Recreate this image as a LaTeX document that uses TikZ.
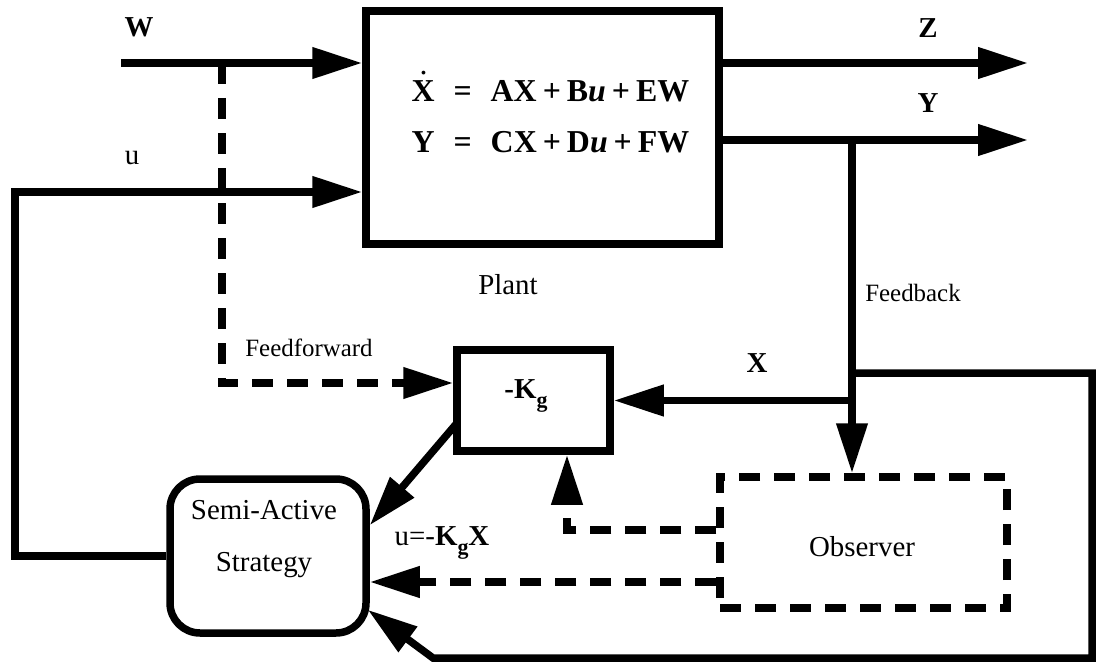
\documentclass[tikz,border=0pt]{standalone}
\usepackage{fontspec}
\setmainfont{Liberation Serif}
\usetikzlibrary{arrows.meta,calc}
\newcommand{\subg}{\raisebox{-0.3em}{\fontsize{22}{22}\selectfont\textbf{g}}}
\begin{document}
\begin{tikzpicture}[x=1bp,y=-1bp,
  line width=7.5bp,
  box/.style={draw, line width=7.5bp, inner sep=0pt, rectangle},
  arr/.style={-{Triangle[length=50bp,width=30bp]}},
  dline/.style={dash pattern=on 21bp off 14bp},
  darr/.style={arr, dline},
  big/.style={font=\fontsize{29}{34}\selectfont, inner sep=0pt},
  eqf/.style={font=\fontsize{32}{36}\selectfont\bfseries, inner sep=0pt},
  small/.style={font=\fontsize{25}{30}\selectfont, inner sep=0pt},
]
\useasboundingbox (0,0) rectangle (1098,664);

% blocks
\node[box, minimum width=353bp, minimum height=233bp] (plant) at (542.5,127.5) {};
\node[box, minimum width=153bp, minimum height=101bp] (kg) at (533.5,400.5) {};
\node[box, dline, minimum width=287bp, minimum height=131bp] (obs) at (863.5,542.5) {};
\node[box, rounded corners=30bp, minimum width=196bp, minimum height=154bp] (semi) at (268,556) {};

% texts
\node[eqf, anchor=base east] (eq1) at (693,102) {\makebox[0pt][l]{\hspace{0.25em}\raisebox{0.85em}{\mdseries .}}X\hspace{19bp}=\hspace{19bp}AX\hspace{6bp}+\hspace{6bp}B\textit{u}\hspace{6bp}+\hspace{6bp}EW};
\node[eqf, anchor=base east] (eq2) at (693,153) {Y\hspace{19bp}=\hspace{19bp}CX\hspace{6bp}+\hspace{6bp}D\textit{u}\hspace{6bp}+\hspace{6bp}FW};
\node[big] (lplant) at (508,285) {Plant};
\node[big] (lW) at (139,27) {\textbf{W}};
\node[big] (lu) at (132,158) {u};
\node[big] (lZ) at (928,28) {\textbf{Z}};
\node[big] (lY) at (928,103) {\textbf{Y}};
\node[small] (lfb) at (913,293) {Feedback};
\node[small] (lff) at (309,348) {Feedforward};
\node[big] (lX) at (757,363) {\textbf{X}};
\node[big] (lkg) at (526,396) {\textbf{-K}\subg};
\node[big] (lux) at (442,543) {u=-\textbf{K}\subg\textbf{X}};
\node[big, align=center, font=\fontsize{29}{52}\selectfont] (lsemi) at (264,539) {Semi-Active\\Strategy};
\node[big] (lobs) at (862,547) {Observer};

% connectors
\coordinate (wstart) at (121,63);
\draw[arr] (wstart) -- (wstart -| plant.west);
\coordinate (uleft) at (15,192);
\draw[arr] (semi.west) -| (uleft) -- (uleft -| plant.west);
\coordinate (zend) at (1028,63);
\draw[arr] (zend -| plant.east) -- (zend);
\coordinate (yend) at (1028,140);
\draw[arr] (yend -| plant.east) -- (yend);
\coordinate (fb) at (852,140);
\draw[arr] (fb) -- (fb |- obs.north);
\draw[arr] (fb |- kg.east) -- (kg.east);
\coordinate (loopstart) at (852,373);
\coordinate (lr) at (1092,658);
\coordinate (lb) at (433,658);
\coordinate (semitip) at ($(semi.south east)+(-2,-27)$);
\draw[arr] (loopstart) -| (lr) -- (lb) -- (semitip);
\coordinate (kgout) at ($(kg.south west)+(3.75,-31.75)$);
\coordinate (semiin) at ($(semi.north east)+(0,50)$);
\draw[arr] (kgout) -- (semiin);
\coordinate (ff) at (222,63);
\draw[darr] (ff) |- ($(kg.west)+(0,-17.5)$);
\draw[darr] ($(obs.west)+(0,-12.5)$) -| ($(kg.south)+(33.5,0)$);
\coordinate (os) at ($(obs.west)+(0,39.5)$);
\draw[darr] (os) -- (os -| semi.east);
\end{tikzpicture}
\end{document}
